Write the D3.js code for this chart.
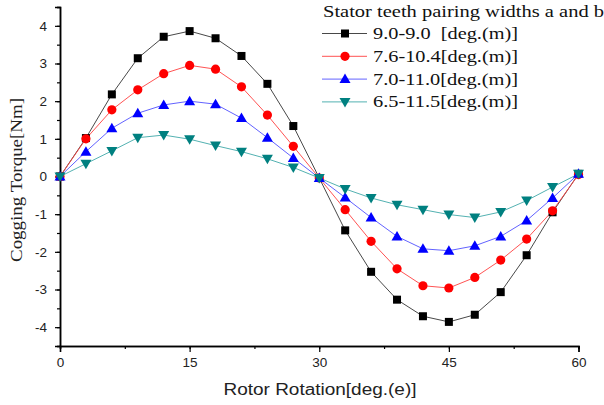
<!DOCTYPE html>
<html>
<head>
  <meta charset="utf-8">
  <title>Cogging Torque</title>
  <script src="https://cdn.jsdelivr.net/npm/d3@7"></script>
  <style>
    body { margin: 0; background: #fff; }
    svg { display: block; }
  </style>
</head>
<body>
  <div id="chart"></div>
  <script>
    // rotor positions, deg.(e)
    const angles = [0, 3, 6, 9, 12, 15, 18, 21, 24, 27, 30, 33, 36, 39, 42, 45, 48, 51, 54, 57, 60]

    const s90_90 = [0, 1.02, 2.18, 3.14, 3.71, 3.86, 3.67, 3.2, 2.46, 1.34, -0.04, -1.43, -2.53, -3.27, -3.71, -3.86, -3.67, -3.07, -2.09, -0.95, 0.07]
    const s76_104 = [0, 1.0, 1.77, 2.3, 2.73, 2.95, 2.85, 2.38, 1.63, 0.8, -0.04, -0.88, -1.72, -2.45, -2.9, -2.96, -2.68, -2.22, -1.66, -0.91, 0.05]
    const s70_110 = [0, 0.66, 1.28, 1.68, 1.9, 2.0, 1.92, 1.55, 1.03, 0.49, -0.04, -0.56, -1.09, -1.59, -1.92, -1.97, -1.84, -1.59, -1.17, -0.57, 0.07]
    const s65_115 = [0, 0.34, 0.68, 1.03, 1.1, 0.99, 0.82, 0.66, 0.47, 0.24, -0.04, -0.33, -0.57, -0.75, -0.88, -1.01, -1.09, -0.94, -0.64, -0.28, 0.07]

    const seriesNames = ["9.0-9.0  [deg.(m)]", "7.6-10.4[deg.(m)]", "7.0-11.0[deg.(m)]", "6.5-11.5[deg.(m)]"]
    const legendTitle = "Stator teeth pairing widths a and b"
    const xTicks = [0, 15, 30, 45, 60]
    const yTicks = [-4, -3, -2, -1, 0, 1, 2, 3, 4]

    const series = [
      { name: seriesNames[0], values: s90_90, color: "#000000", line: "#333333", symbol: "square" },
      { name: seriesNames[1], values: s76_104, color: "#ff0000", line: "#ff4040", symbol: "circle" },
      { name: seriesNames[2], values: s70_110, color: "#0000ff", line: "#5050ff", symbol: "up" },
      { name: seriesNames[3], values: s65_115, color: "#008080", line: "#40a8a8", symbol: "down" }
    ]

    const width = 604
    const height = 405

    const svg = d3.select("#chart")
      .append("svg")
      .attr("width", width)
      .attr("height", height)

    const x = d3.scaleLinear().domain([0, 60]).range([60, 578.5])
    const y = d3.scaleLinear().domain([-4.5, 4.5]).range([346, 7])

    // axes
    const xAxis = svg.append("g")
      .attr("transform", `translate(0,${y(-4.5)})`)
    xAxis.append("g")
      .call(d3.axisBottom(x).tickValues(d3.range(0, 61, 7.5)).tickSize(3).tickFormat(""))
    xAxis.append("g")
      .call(d3.axisBottom(x).tickValues(xTicks).tickSize(6).tickPadding(5).tickFormat(d => String(d)))
    xAxis.selectAll("path").attr("stroke-width", 1.5)
    xAxis.selectAll("line").attr("stroke-width", 1.2)
    xAxis.selectAll("text")
      .style("font-family", "Liberation Sans, Arial, sans-serif")
      .style("font-size", "13.5px")
      .attr("fill", "#222")

    const yAxis = svg.append("g")
      .attr("transform", `translate(${x(0)},0)`)
    yAxis.append("g")
      .call(d3.axisLeft(y).tickValues(d3.range(-4.5, 4.51, 0.5)).tickSize(3).tickFormat(""))
    yAxis.append("g")
      .call(d3.axisLeft(y).tickValues(yTicks).tickSize(5).tickPadding(8).tickFormat(d => String(d)))
    yAxis.selectAll("path").attr("stroke-width", 1.5)
    yAxis.selectAll("line").attr("stroke-width", 1.2)
    yAxis.selectAll("text")
      .style("font-family", "Liberation Sans, Arial, sans-serif")
      .style("font-size", "13.5px")
      .attr("fill", "#222")

    // axis titles
    svg.append("text")
      .attr("x", 320)
      .attr("y", 395)
      .attr("text-anchor", "middle")
      .attr("textLength", 193)
      .attr("lengthAdjust", "spacingAndGlyphs")
      .style("font-family", "Liberation Sans, Arial, sans-serif")
      .style("font-size", "16px")
      .attr("fill", "#222")
      .text("Rotor Rotation[deg.(e)]")

    svg.append("text")
      .attr("transform", `translate(21.5,180) rotate(-90)`)
      .attr("text-anchor", "middle")
      .attr("textLength", 164)
      .attr("lengthAdjust", "spacingAndGlyphs")
      .style("font-family", "Liberation Serif, Times New Roman, serif")
      .style("font-size", "17px")
      .attr("fill", "#222")
      .text("Cogging Torque[Nm]")

    // symbols
    function drawMarker(g, type, color, cx, cy) {
      if (type === "square") {
        g.append("rect")
          .attr("x", cx - 4).attr("y", cy - 4)
          .attr("width", 8).attr("height", 8)
          .attr("fill", color)
      } else if (type === "circle") {
        g.append("circle")
          .attr("cx", cx).attr("cy", cy).attr("r", 4.6)
          .attr("fill", color)
      } else if (type === "up") {
        g.append("path")
          .attr("d", `M${cx},${cy - 5.5}L${cx + 5.5},${cy + 4}L${cx - 5.5},${cy + 4}Z`)
          .attr("fill", color)
      } else {
        g.append("path")
          .attr("d", `M${cx},${cy + 5.5}L${cx + 5.5},${cy - 4}L${cx - 5.5},${cy - 4}Z`)
          .attr("fill", color)
      }
    }

    const line = d3.line()
      .x((d, i) => x(angles[i]))
      .y(d => y(d))

    series.forEach(s => {
      svg.append("path")
        .datum(s.values)
        .attr("fill", "none")
        .attr("stroke", s.line)
        .attr("stroke-width", 0.9)
        .attr("d", line)
    })

    series.forEach(s => {
      const g = svg.append("g")
      s.values.forEach((v, i) => drawMarker(g, s.symbol, s.color, x(angles[i]), y(v)))
    })

    // legend
    const legend = svg.append("g")
    legend.append("text")
      .attr("x", 323)
      .attr("y", 17)
      .attr("textLength", 281)
      .attr("lengthAdjust", "spacingAndGlyphs")
      .style("font-family", "Liberation Serif, Times New Roman, serif")
      .style("font-size", "16px")
      .attr("fill", "#111")
      .text(legendTitle)

    series.forEach((s, i) => {
      const cy = 33.5 + i * 22.8
      legend.append("line")
        .attr("x1", 322).attr("x2", 367)
        .attr("y1", cy).attr("y2", cy)
        .attr("stroke", s.line)
        .attr("stroke-width", 0.9)
      drawMarker(legend, s.symbol, s.color, 345, cy)
      legend.append("text")
        .attr("x", 373)
        .attr("y", cy + 5.5)
        .attr("textLength", 145)
        .attr("lengthAdjust", "spacingAndGlyphs")
        .style("white-space", "pre")
        .style("font-family", "Liberation Serif, Times New Roman, serif")
        .style("font-size", "16px")
        .attr("fill", "#111")
        .text(s.name)
    })
  </script>
</body>
</html>
